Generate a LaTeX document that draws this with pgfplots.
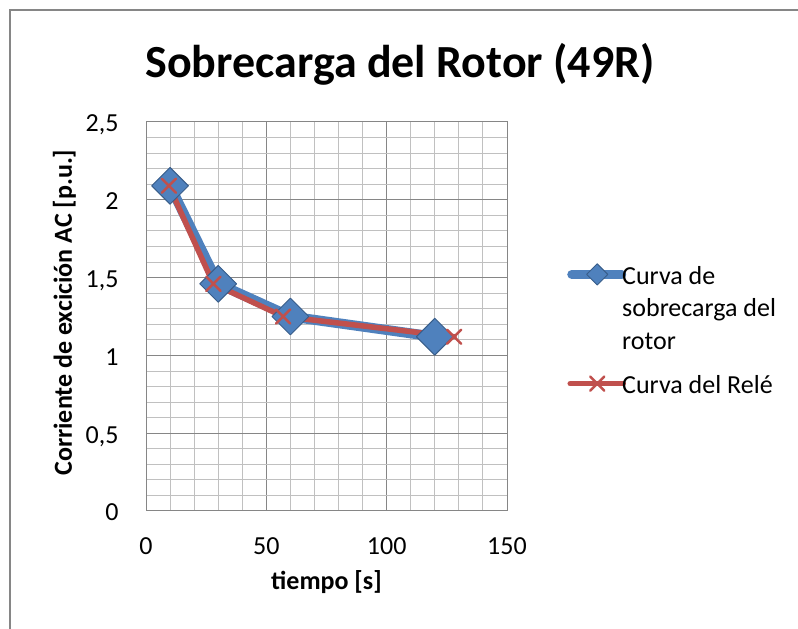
\documentclass[border=0pt]{standalone}
\usepackage{pgfplots}
\pgfplotsset{compat=1.18}
\usepackage{fontspec}
\setmainfont{Carlito}
\definecolor{serblue}{HTML}{4F81BD}
\definecolor{serblueedge}{HTML}{385D8A}
\definecolor{serred}{HTML}{C0504D}
\definecolor{majgrid}{HTML}{868686}
\definecolor{mingrid}{HTML}{C0C0C0}
\begin{document}
\begin{tikzpicture}[x=1pt,y=1pt]
\path[use as bounding box] (0,0) rectangle (798,629);
\draw[majgrid, line width=1.5pt] (10,0) -- (10,619) -- (800,619);
\node[font=\fontsize{46}{54}\selectfont\bfseries, anchor=base] at (400,551) {Sobrecarga del Rotor (49R)};
\begin{axis}[
  at={(146pt,118pt)}, anchor=south west,
  width=361pt, height=389pt, scale only axis,
  xmin=0, xmax=150, ymin=0, ymax=2.5,
  xtick={0,50,100,150}, ytick={0,0.5,1,1.5,2,2.5},
  minor x tick num=4, minor y tick num=4,
  grid=both,
  major grid style={majgrid, line width=1pt},
  minor grid style={mingrid, line width=0.9pt},
  axis line style={majgrid, line width=1pt},
  major tick length=0pt, minor tick length=0pt,
  /pgf/number format/assume math mode=true,
  /pgf/number format/use comma,
  ticklabel style={font=\fontsize{26}{30}\selectfont},
  xticklabel style={anchor=base, yshift=-44pt},
  yticklabel style={anchor=base east, xshift=-24pt, yshift=-10pt},
  xlabel={tiempo [s]}, ylabel={Corriente de excición AC [p.u.]},
  label style={font=\fontsize{26}{30}\selectfont\bfseries},
  xlabel style={at={(axis description cs:0.5,0)}, anchor=base, yshift=-79pt},
  ylabel style={at={(axis description cs:-0.205,0.51)}, anchor=base},
  legend style={at={(rel axis cs:1.1663,0.636)}, anchor=north west, draw=none, fill=none,
    font=\fontsize{26}{32.5}\selectfont,
    nodes={inner sep=1pt, text depth={}},
    cells={anchor=base west}, row sep=24pt,
    inner sep=0pt, /tikz/every odd column/.style={column sep=-5pt}},
]
\addplot[serblue, line width=10pt, line cap=round, line join=round,
  mark=square*, mark size=13pt,
  mark options={rotate=45, fill=serblue, draw=serblueedge, line width=1pt},
  legend image code/.code={
    \draw[serblue, line width=9pt, line cap=round] (4.5pt,10pt) -- (54.5pt,10pt);
    \draw[mark=square*, mark size=7.5pt, mark options={rotate=45, fill=serblue, draw=serblueedge, line width=1pt}] plot coordinates {(30pt,10pt)};
  }]
  coordinates {(10,2.09) (30,1.46) (60,1.25) (120,1.12)};
\addlegendentry{\vtop{\hbox{Curva de}\hbox{sobrecarga del}\hbox{rotor}}}
\addplot[serred, line width=5.5pt, line cap=round, line join=round,
  mark=x, mark size=10pt, mark options={line width=2.5pt, solid},
  legend image code/.code={
    \draw[serred, line width=5.5pt, line cap=round] (3pt,10pt) -- (56pt,10pt);
    \draw[serred, mark=x, mark size=10pt, mark options={line width=2.5pt, solid}] plot coordinates {(30pt,10pt)};
  }]
  coordinates {(9.5,2.09) (28,1.46) (57,1.25) (128,1.12)};
\addlegendentry{Curva del Relé}
\end{axis}
\end{tikzpicture}
\end{document}
